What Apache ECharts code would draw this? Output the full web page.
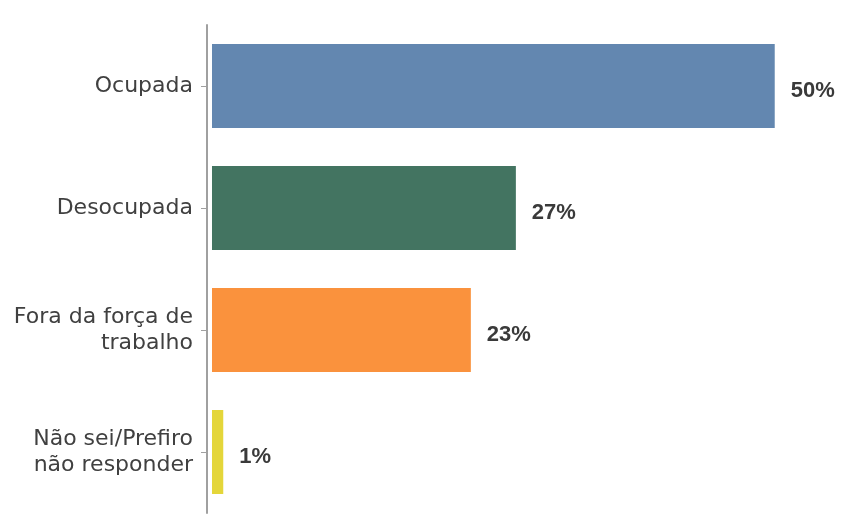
<!DOCTYPE html>
<html>
<head>
<meta charset="utf-8">
<style>html,body{margin:0;padding:0;background:#fff}#c{width:842px;height:518px}</style>
<script src="https://cdn.jsdelivr.net/npm/echarts@6/dist/echarts.min.js"></script>
</head>
<body>
<div id="c"></div>
<script>
const categories = ['Ocupada', 'Desocupada', 'Fora da força de\ntrabalho', 'Não sei/Prefiro\nnão responder'];
const values = [50, 27, 23, 1];
const colors = ['#6387B0', '#437461', '#FA923D', '#E4D63A'];

const chart = echarts.init(document.getElementById('c'), null, {renderer: 'canvas'});
chart.setOption({
  animation: false,
  grid: {left: 207, top: 25, bottom: 5, right: 11, containLabel: false},
  xAxis: {
    type: 'value', min: -0.444, max: 55, show: false
  },
  yAxis: {
    type: 'category', data: categories, inverse: true,
    axisLine: {show: true, onZero: false, lineStyle: {color: '#a0a0a0', width: 2}},
    axisTick: {show: true, alignWithLabel: true, length: 6, lineStyle: {color: '#a0a0a0', width: 1}},
    axisLabel: {color: '#404040', fontFamily: 'DejaVu Sans', fontSize: 22, margin: 14, lineHeight: 26, align: 'right', padding: [8, 0, 0, 0]},
    splitLine: {show: false}
  },
  series: [{
    type: 'bar',
    barWidth: 84,
    data: values.map((v, i) => ({value: v, itemStyle: {color: colors[i]}})),
    label: {
      show: true, position: 'right', distance: 16, offset: [0, 5],
      formatter: '{c}%',
      color: '#3a3a3a', fontFamily: 'Liberation Sans', fontWeight: 'bold', fontSize: 22
    }
  }]
});
</script>
</body>
</html>
